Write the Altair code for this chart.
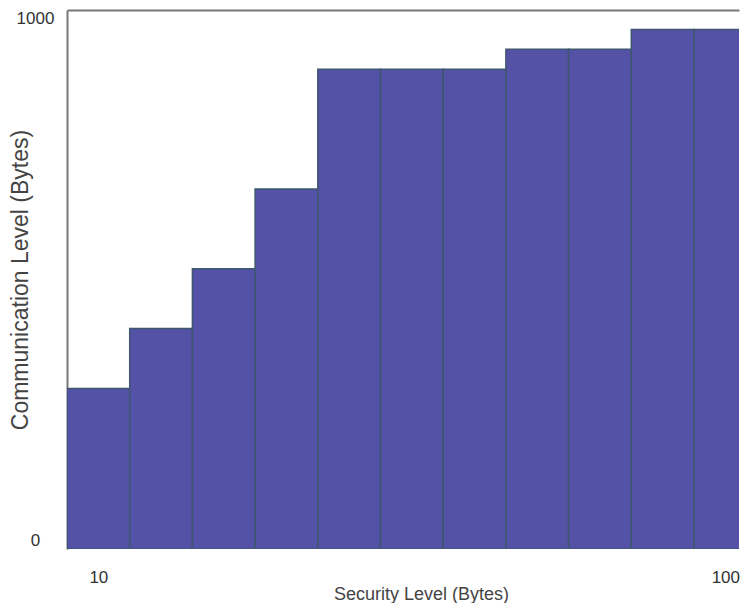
import altair as alt
import pandas as pd

security = [10, 19, 28, 37, 46, 55, 64, 73, 82, 91, 100]
communication = [298, 409, 520, 668, 890, 890, 890, 927, 927, 964, 964]
x_ticks = [10, 100]
y_ticks = [0, 1000]

df = pd.DataFrame({"security": security, "communication": communication})

FONT = "Liberation Sans"
x_scale = alt.Scale(domain=[5.5, 101.96], nice=False, zero=False)
y_scale = alt.Scale(domain=[0, 1000], nice=False)

base = alt.Chart(df).transform_calculate(
    lo="datum.security - 4.5", hi="datum.security + 4.5"
)

bars = base.mark_bar(
    fill="#5452A6", stroke="#3E5670", strokeWidth=1.5, clip=True
).encode(
    x=alt.X(
        "lo:Q",
        scale=x_scale,
        axis=alt.Axis(
            values=x_ticks,
            domain=False,
            ticks=False,
            grid=False,
            labelFlush=False,
            labelPadding=20,
            labelFontSize=17,
            labelColor="#333333",
            labelFont=FONT,
            title="Security Level (Bytes)",
            titleFont=FONT,
            titleFontSize=18,
            titleFontWeight="normal",
            titleColor="#444444",
            titleX=354,
            titleY=36,
            titleBaseline="top",
        ),
    ),
    x2="hi:Q",
    y=alt.Y(
        "communication:Q",
        scale=y_scale,
        axis=alt.Axis(
            values=y_ticks,
            format="d",
            domain=True,
            domainColor="#777777",
            domainWidth=2,
            ticks=False,
            grid=False,
            labelPadding=32,
            labelAlign="center",
            labelFontSize=17,
            labelColor="#333333",
            labelFont=FONT,
            labelBaseline={
                "condition": {"test": "datum.value == 0", "value": "bottom"},
                "value": "top",
            },
            title="Communication Level (Bytes)",
            titleFont=FONT,
            titleFontSize=23,
            titleFontWeight="normal",
            titleColor="#444444",
            titleX=-47,
            titleBaseline="middle",
        ),
    ),
    y2=alt.datum(0),
)

frame_top = base.mark_bar(opacity=0, clip=True).encode(
    x=alt.X(
        "lo:Q",
        scale=x_scale,
        axis=alt.Axis(
            orient="top",
            domain=True,
            domainColor="#777777",
            domainWidth=2,
            labels=False,
            ticks=False,
            grid=False,
            title=None,
        ),
    ),
    x2="hi:Q",
    y=alt.Y("communication:Q", scale=y_scale),
    y2=alt.datum(0),
)

chart = (
    alt.layer(bars, frame_top)
    .resolve_axis(x="independent")
    .properties(
        width=672,
        height=539,
        padding={"left": 1, "top": 1, "right": 0, "bottom": 0},
        background="white",
    )
    .configure_view(stroke=None)
)

chart.save("out.html", embed_options={"renderer": "svg", "actions": False})
